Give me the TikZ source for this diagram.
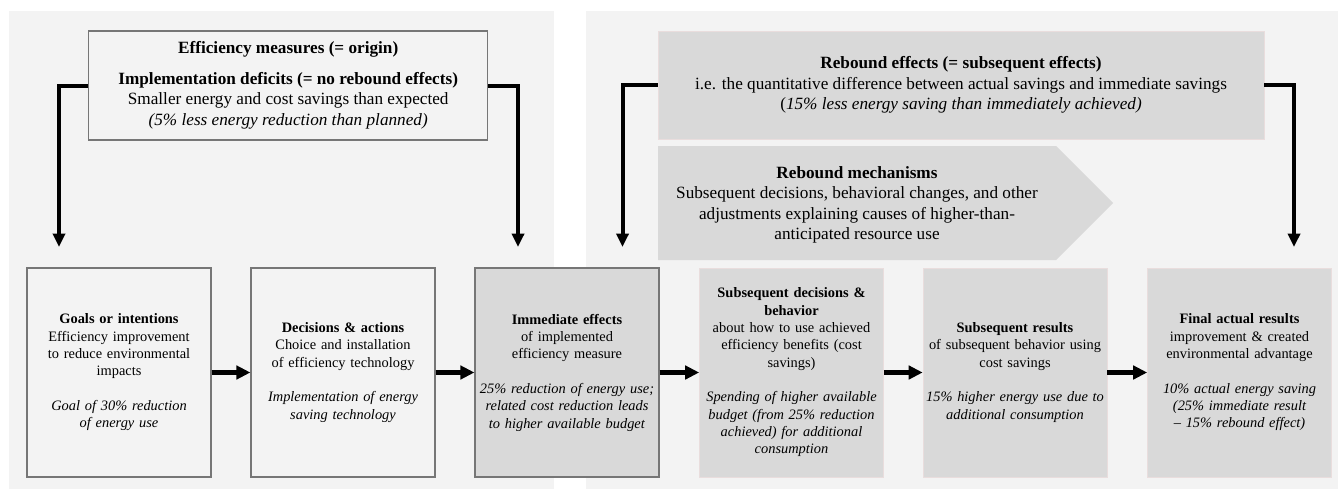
\documentclass[tikz,border=0pt]{standalone}
\usepackage{fontspec}
\setmainfont{Liberation Serif}
\usepackage{xcolor}
\usepackage{tikz}
\usetikzlibrary{positioning, arrows.meta}

\definecolor{panelgrey}{HTML}{F3F3F3}
\definecolor{boxgrey}{HTML}{D9D9D9}
\definecolor{edgegrey}{HTML}{767676}
\definecolor{faintedge}{HTML}{E9DDDD}
\newcommand{\topfs}{\fontsize{12.9pt}{15.4pt}\selectfont}
\newcommand{\boxfs}{\fontsize{10.8pt}{13pt}\selectfont}

\begin{document}
\begin{tikzpicture}[x=0.75pt, y=-0.75pt,
    panel/.style={fill=panelgrey, draw=none},
    head/.style={align=center, font=\topfs, inner sep=0pt},
    stage/.style={align=center, font=\boxfs, text width=136pt, inner xsep=1pt,
        minimum height=156.75pt},
    plain/.style={stage, draw=edgegrey, line width=0.9pt, fill=panelgrey},
    shaded/.style={stage, draw=edgegrey, line width=0.9pt, fill=boxgrey},
    rebound/.style={stage, draw=faintedge, line width=0.5pt, fill=boxgrey},
    flow/.style={line width=3.75pt, -{Triangle[length=10.5pt,width=10pt]}},
    elbow/.style={line width=3pt, -{Triangle[length=10pt,width=9pt]}}]
    \useasboundingbox (0,0) rectangle (1338,489);
    \fill[panel] (9,11) rectangle (554,489);
    \fill[panel] (585.5,11) rectangle (1338,489);

    \node[head, draw=edgegrey, line width=0.9pt, fill=panelgrey,
        minimum width=299.25pt, minimum height=81.75pt] (origin) at (288.2,85.5) {%
        \textbf{Efficiency measures (= origin)}\\[7.5pt]
        \textbf{Implementation deficits (= no rebound effects)}\\
        Smaller energy and cost savings than expected\\
        \textit{(5\% less energy reduction than planned)}};
    \node[head, draw=faintedge, line width=0.5pt, fill=boxgrey,
        minimum width=454.5pt, minimum height=81pt] (effects) at (961,85) {%
        \textbf{Rebound effects (= subsequent effects)}\\
        i.e. the quantitative difference between actual savings and immediate savings\\
        (\textit{15\% less energy saving than immediately achieved)}};
    \fill[boxgrey] (658,146) -- (1056,146) -- (1113,203) -- (1056,260) -- (658,260) -- cycle;
    \node[head] (mech) at (857,205) {%
        \textbf{Rebound mechanisms}\\
        Subsequent decisions, behavioral changes, and other\\
        adjustments explaining causes of higher-than-\\
        anticipated resource use};

    \node[plain] (goal) at (119,372.5) {%
        \textbf{Goals or intentions}\\
        Efficiency improvement\\ to reduce environmental\\ impacts\\[13pt]
        \textit{Goal of 30\% reduction\\ of energy use}\\[9pt]};
    \node[plain] (act) at (343,372.5) {%
        \textbf{Decisions \& actions}\\
        Choice and installation\\ of efficiency technology\\[13pt]
        \textit{Implementation of energy\\ saving technology}};
    \node[shaded] (imm) at (567,372.5) {%
        \textbf{Immediate effects}\\
        of implemented\\ efficiency measure\\[13pt]
        \textit{25\% reduction of energy use;\\ related cost reduction leads\\
        to higher available budget}};
    \node[rebound] (beh) at (791.5,372.5) {%
        \textbf{Subsequent decisions \&\\ behavior}\\
        about how to use achieved\\ efficiency benefits (cost\\ savings)\\[13pt]
        \textit{Spending of higher available\\ budget (from 25\% reduction\\
        achieved) for additional\\ consumption}};
    \node[rebound] (res) at (1015,372.5) {%
        \textbf{Subsequent results}\\
        of subsequent behavior using\\ cost savings\\[13pt]
        \textit{15\% higher energy use due to\\ additional consumption}};
    \node[rebound] (final) at (1239.5,372.5) {%
        \textbf{Final actual results}\\
        improvement \& created\\ environmental advantage\\[13pt]
        \textit{10\% actual energy saving\\ (25\% immediate result\\
        -- 15\% rebound effect)}};

    \foreach \a/\b in {goal/act, act/imm, imm/beh, beh/res, res/final}
        \draw[flow] (\a) -- (\b);

    \coordinate (togoal) at (59,247);
    \coordinate (toimm) at (518,247);
    \coordinate (fromimm) at (622.5,247);
    \coordinate (tofinal) at (1294,247);
    \draw[elbow] (origin.west) -| (togoal);
    \draw[elbow] (origin.east) -| (toimm);
    \draw[elbow] (effects.west) -| (fromimm);
    \draw[elbow] (effects.east) -| (tofinal);
\end{tikzpicture}
\end{document}
